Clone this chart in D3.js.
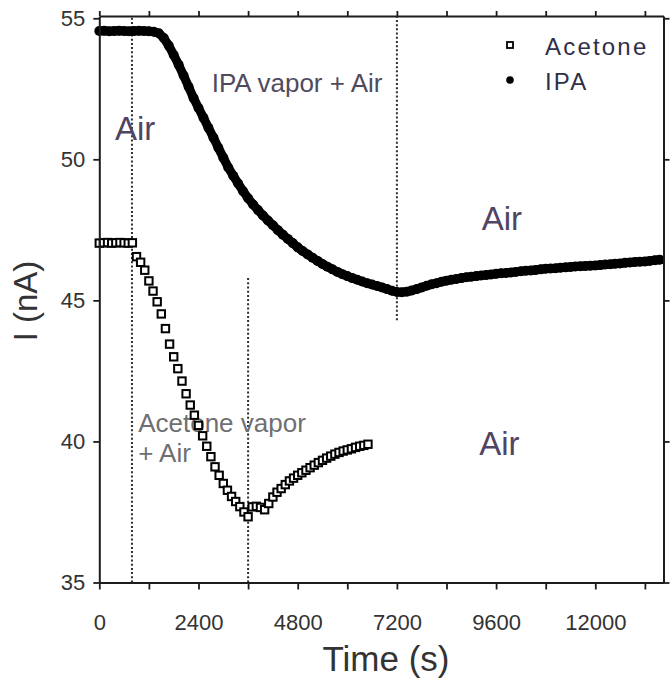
<!DOCTYPE html>
<html>
<head>
<meta charset="utf-8">
<script src="https://cdn.jsdelivr.net/npm/d3@7"></script>
<style>
  html, body { margin: 0; padding: 0; background: #fff; }
  svg { display: block; font-family: "Liberation Sans", Arial, sans-serif; }
</style>
</head>
<body>
<svg id="chart" width="671" height="686"></svg>
<script>
// Current response of the sensor, I (nA), versus time (s)

// IPA run: one reading every 120 s starting at t = 0
const ipaStart = 0;
const ipaStep = 120;
const ipaValues = [
  54.55, 54.56, 54.54, 54.55, 54.56, 54.55, 54.54, 54.55, 54.56, 54.55, 54.54, 54.52,
  54.47, 54.30, 54.03, 53.70, 53.35, 52.97, 52.57, 52.17, 51.82, 51.47, 51.12, 50.77,
  50.41, 50.06, 49.71, 49.42, 49.14, 48.87, 48.62, 48.40, 48.20, 48.01, 47.83, 47.66,
  47.49, 47.33, 47.18, 47.03, 46.88, 46.75, 46.63, 46.51, 46.40, 46.29, 46.19, 46.10,
  46.01, 45.93, 45.86, 45.79, 45.73, 45.67, 45.61, 45.56, 45.51, 45.46, 45.40, 45.34,
  45.30, 45.29, 45.31, 45.35, 45.40, 45.46, 45.52, 45.57, 45.61, 45.66, 45.70, 45.73,
  45.76, 45.79, 45.82, 45.84, 45.86, 45.88, 45.90, 45.92, 45.94, 45.96, 45.97, 45.99,
  46.01, 46.03, 46.05, 46.06, 46.08, 46.10, 46.12, 46.13, 46.14, 46.16, 46.17, 46.18,
  46.20, 46.21, 46.22, 46.23, 46.24, 46.25, 46.27, 46.28, 46.30, 46.31, 46.33, 46.34,
  46.36, 46.37, 46.38, 46.40, 46.42, 46.44
];

// Acetone run: one reading every 100 s starting at t = 0
const acetoneStart = 0;
const acetoneStep = 100;
const acetoneValues = [
  47.03, 47.04, 47.05, 47.03, 47.04, 47.05, 47.04, 47.03, 47.04,
  46.55, 46.35, 46.07, 45.69, 45.33, 44.95, 44.52, 44.00, 43.45, 43.00,
  42.58, 42.14, 41.69, 41.29, 40.93, 40.57, 40.20, 39.83, 39.46, 39.10,
  38.80, 38.51, 38.27, 38.05, 37.87, 37.69, 37.50, 37.33, 37.68, 37.70,
  37.66, 37.58, 37.80, 38.03, 38.20, 38.33, 38.47, 38.60, 38.70, 38.80,
  38.89, 38.98, 39.07, 39.16, 39.25, 39.33, 39.41, 39.48, 39.55, 39.61,
  39.66, 39.70, 39.74, 39.79, 39.83, 39.86, 39.90
];

// Gas switching instants (s) and the current span each marker covers (nA)
const switchTimes = [790, 3600, 7200];
const switchFrom = [35, 35, 44.3];
const switchTo = [55.08, 45.8, 55.08];

// Phase labels, anchored in data coordinates (time, current)
const phaseTexts = ["Air", "IPA vapor + Air", "Air", "Acetone vapor", "+ Air", "Air"];
const phaseTimes = [380, 2720, 9250, 940, 940, 9190];
const phaseCurrents = [50.67, 52.38, 47.48, 40.34, 39.28, 39.51];
const phaseKinds = ["air", "vapor", "air", "acetone", "acetone", "air"];

// Axis ticks
const xTicks = d3.range(0, 13650, 1200);
const xLabelled = [0, 2400, 4800, 7200, 9600, 12000];
const yTicks = [35, 40, 45, 50, 55];

const seriesNames = ["Acetone", "IPA"];

const ipa = ipaValues.map((v, i) => ({ t: ipaStart + i * ipaStep, v }));
const acetone = acetoneValues.map((v, i) => ({ t: acetoneStart + i * acetoneStep, v }));

const svg = d3.select("#chart");
const ink = "#1c1c1c";

const x = d3.scaleLinear().domain([0, 13650]).range([99.3, 663.5]);
const y = d3.scaleLinear().domain([35, 55.08]).range([582.5, 16]);

// Switching markers (dotted verticals)
svg.append("g")
  .selectAll("line")
  .data(switchTimes)
  .join("line")
  .attr("x1", d => x(d)).attr("x2", d => x(d))
  .attr("y1", (d, i) => y(switchFrom[i]))
  .attr("y2", (d, i) => y(switchTo[i]))
  .attr("stroke", "#2e2e2e")
  .attr("stroke-width", 2)
  .attr("stroke-dasharray", "2,2.2");

// Phase labels
const phaseColor = { air: "#4f4563", vapor: "#514a5e", acetone: "#6f6f72" };
const phaseSize = { air: 33, vapor: 26, acetone: 26 };
svg.append("g")
  .selectAll("text")
  .data(phaseTexts)
  .join("text")
  .attr("x", (d, i) => x(phaseTimes[i]))
  .attr("y", (d, i) => y(phaseCurrents[i]))
  .attr("fill", (d, i) => phaseColor[phaseKinds[i]])
  .attr("font-size", (d, i) => phaseSize[phaseKinds[i]])
  .text(d => d);

// IPA: dense filled circles
svg.append("path")
  .datum(ipa)
  .attr("fill", "none")
  .attr("stroke", "#000")
  .attr("stroke-width", 9)
  .attr("stroke-linejoin", "round")
  .attr("d", d3.line().x(d => x(d.t)).y(d => y(d.v)));
svg.append("g")
  .selectAll("circle")
  .data(ipa)
  .join("circle")
  .attr("cx", d => x(d.t))
  .attr("cy", d => y(d.v))
  .attr("r", 5)
  .attr("fill", "#000");

// Acetone: open squares
const sq = 7.4;
svg.append("g")
  .selectAll("rect")
  .data(acetone)
  .join("rect")
  .attr("x", d => x(d.t) - sq / 2)
  .attr("y", d => y(d.v) - sq / 2)
  .attr("width", sq)
  .attr("height", sq)
  .attr("fill", "#fff")
  .attr("stroke", "#000")
  .attr("stroke-width", 2);

// Axes: labelled bottom/left, tick-only top/right
function styleAxis(g) {
  g.select(".domain").attr("stroke", ink).attr("stroke-width", 2);
  g.selectAll(".tick line").attr("stroke", ink).attr("stroke-width", 1.8);
  g.selectAll(".tick text")
    .attr("fill", "#333")
    .attr("font-size", 22)
    .attr("font-family", "'Liberation Sans', Arial, sans-serif");
}

svg.append("g")
  .attr("transform", `translate(0,${y(35)})`)
  .call(d3.axisBottom(x).tickValues(xTicks).tickSize(7).tickSizeOuter(0).tickPadding(25)
    .tickFormat(d => xLabelled.includes(d) ? d : ""))
  .call(styleAxis);

svg.append("g")
  .attr("transform", `translate(0,${y(55.08)})`)
  .call(d3.axisTop(x).tickValues(xTicks).tickSize(5).tickSizeOuter(0).tickFormat(""))
  .call(styleAxis);

svg.append("g")
  .attr("transform", `translate(${x(0)},0)`)
  .call(d3.axisLeft(y).tickValues(yTicks).tickSize(6).tickSizeOuter(0).tickPadding(8))
  .call(styleAxis);

svg.append("g")
  .attr("transform", `translate(${x(13650)},0)`)
  .call(d3.axisRight(y).tickValues(yTicks).tickSize(6).tickSizeOuter(0).tickFormat(""))
  .call(styleAxis);

// Axis titles
svg.append("text")
  .attr("x", 386).attr("y", 671)
  .attr("text-anchor", "middle")
  .attr("font-size", 35)
  .attr("fill", "#333")
  .text("Time (s)");

svg.append("text")
  .attr("transform", "translate(37,301) rotate(-90)")
  .attr("text-anchor", "middle")
  .attr("font-size", 33)
  .attr("fill", "#333")
  .text("I (nA)");

// Legend
const legend = svg.append("g");
const legendRows = legend.selectAll("g")
  .data(seriesNames)
  .join("g")
  .attr("transform", (d, i) => `translate(510,${45 + i * 35})`);
legendRows.filter(d => d === "Acetone")
  .append("rect")
  .attr("x", -3).attr("y", -3).attr("width", 6).attr("height", 6)
  .attr("fill", "#fff").attr("stroke", "#000").attr("stroke-width", 1.8);
legendRows.filter(d => d === "IPA")
  .append("circle")
  .attr("r", 3.8).attr("fill", "#000");
legendRows.append("text")
  .attr("x", 35).attr("y", 10)
  .attr("font-size", 24)
  .attr("letter-spacing", 2.2)
  .attr("fill", "#2f2f48")
  .text(d => d);
</script>
</body>
</html>
